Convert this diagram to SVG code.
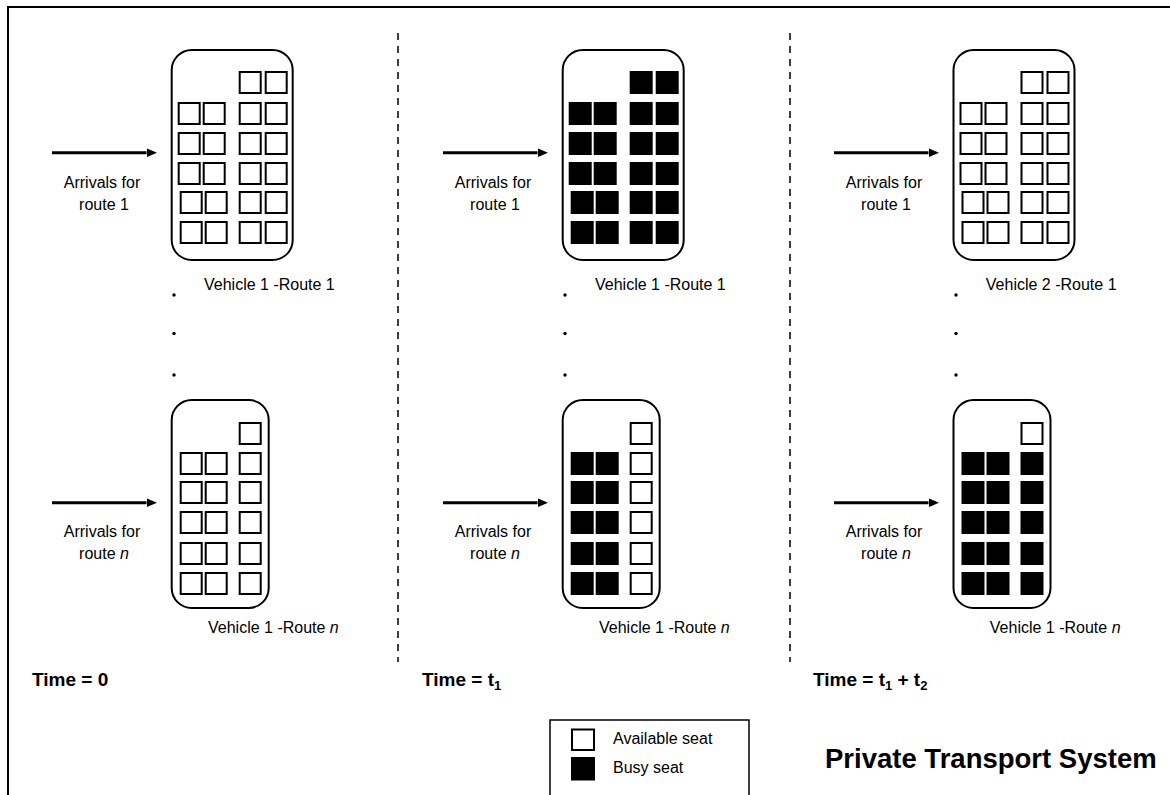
<svg xmlns="http://www.w3.org/2000/svg" xmlns:xlink="http://www.w3.org/1999/xlink" width="1170" height="795" viewBox="0 0 1170 795">
<style>
.body{fill:#fff;stroke:#000;stroke-width:2}
.free{fill:#fff;stroke:#000;stroke-width:2}
.busy{fill:#000;stroke:#000;stroke-width:2}
.lbl{font-family:"Liberation Sans",Arial,sans-serif;font-size:16px;fill:#000}
.time{font-family:"Liberation Sans",Arial,sans-serif;font-size:19px;font-weight:bold;fill:#000}
.title{font-family:"Liberation Sans",Arial,sans-serif;font-size:27.5px;font-weight:bold;fill:#000}
.arrow{stroke:#000;stroke-width:3;fill:none}
.dash{stroke:#000;stroke-width:1.5;stroke-dasharray:7 6;fill:none}
.dot{fill:#000}
</style>
<defs>
<marker id="ah" markerUnits="userSpaceOnUse" markerWidth="11" markerHeight="10" refX="0" refY="4.5" orient="auto">
<path d="M0,0 L10.5,4.5 L0,9 z" fill="#000"/>
</marker>
</defs>
<rect x="0" y="0" width="1170" height="795" fill="#fff"/>
<rect x="8" y="7" width="1180" height="800" fill="none" stroke="#000" stroke-width="2"/>

<g id="dividers">
<line class="dash" x1="398" y1="33" x2="398" y2="662"/>
<line class="dash" x1="790" y1="33" x2="790" y2="662"/>
</g>

<!-- Column 1 -->
<g id="veh1-route1" transform="translate(171.7,50)">
<rect class="body" x="0" y="0" width="121" height="210" rx="20"/>
<g class="free">
<rect x="68" y="22" width="21" height="21"/><rect x="94" y="22" width="21" height="21"/>
<rect x="7" y="53" width="21" height="21"/><rect x="32" y="53" width="21" height="21"/><rect x="68" y="53" width="21" height="21"/><rect x="94" y="53" width="21" height="21"/>
<rect x="7" y="83" width="21" height="21"/><rect x="32" y="83" width="21" height="21"/><rect x="68" y="83" width="21" height="21"/><rect x="94" y="83" width="21" height="21"/>
<rect x="7" y="113" width="21" height="21"/><rect x="32" y="113" width="21" height="21"/><rect x="68" y="113" width="21" height="21"/><rect x="94" y="113" width="21" height="21"/>
<rect x="9" y="142" width="21" height="21"/><rect x="34" y="142" width="21" height="21"/><rect x="68" y="142" width="21" height="21"/><rect x="94" y="142" width="21" height="21"/>
<rect x="9" y="172" width="21" height="21"/><rect x="34" y="172" width="21" height="21"/><rect x="68" y="172" width="21" height="21"/><rect x="94" y="172" width="21" height="21"/>
</g>
<text class="lbl" x="32.3" y="240">Vehicle 1 -Route 1</text>
</g>

<g id="veh1-routen" transform="translate(171.7,400)">
<rect class="body" x="0" y="0" width="97" height="208" rx="20"/>
<g class="free">
<rect x="68" y="23" width="21" height="21"/>
<rect x="9" y="53" width="21" height="21"/><rect x="34" y="53" width="21" height="21"/><rect x="68" y="53" width="21" height="21"/>
<rect x="9" y="82" width="21" height="21"/><rect x="34" y="82" width="21" height="21"/><rect x="68" y="82" width="21" height="21"/>
<rect x="9" y="112" width="21" height="21"/><rect x="34" y="112" width="21" height="21"/><rect x="68" y="112" width="21" height="21"/>
<rect x="9" y="143" width="21" height="21"/><rect x="34" y="143" width="21" height="21"/><rect x="68" y="143" width="21" height="21"/>
<rect x="9" y="173" width="21" height="21"/><rect x="34" y="173" width="21" height="21"/><rect x="68" y="173" width="21" height="21"/>
</g>
<text class="lbl" x="36.3" y="233">Vehicle 1 -Route <tspan font-style="italic">n</tspan></text>
</g>

<!-- Column 2 -->
<g id="veh1-route1-t1" transform="translate(562.7,50)">
<rect class="body" x="0" y="0" width="121" height="210" rx="20"/>
<g class="busy">
<rect x="68" y="22" width="21" height="21"/><rect x="94" y="22" width="21" height="21"/>
<rect x="7" y="53" width="21" height="21"/><rect x="32" y="53" width="21" height="21"/><rect x="68" y="53" width="21" height="21"/><rect x="94" y="53" width="21" height="21"/>
<rect x="7" y="83" width="21" height="21"/><rect x="32" y="83" width="21" height="21"/><rect x="68" y="83" width="21" height="21"/><rect x="94" y="83" width="21" height="21"/>
<rect x="7" y="113" width="21" height="21"/><rect x="32" y="113" width="21" height="21"/><rect x="68" y="113" width="21" height="21"/><rect x="94" y="113" width="21" height="21"/>
<rect x="9" y="142" width="21" height="21"/><rect x="34" y="142" width="21" height="21"/><rect x="68" y="142" width="21" height="21"/><rect x="94" y="142" width="21" height="21"/>
<rect x="9" y="172" width="21" height="21"/><rect x="34" y="172" width="21" height="21"/><rect x="68" y="172" width="21" height="21"/><rect x="94" y="172" width="21" height="21"/>
</g>
<text class="lbl" x="32.3" y="240">Vehicle 1 -Route 1</text>
</g>

<g id="veh1-routen-t1" transform="translate(562.7,400)">
<rect class="body" x="0" y="0" width="97" height="208" rx="20"/>
<g class="free">
<rect x="68" y="23" width="21" height="21"/>
<rect x="68" y="53" width="21" height="21"/><rect x="68" y="82" width="21" height="21"/><rect x="68" y="112" width="21" height="21"/><rect x="68" y="143" width="21" height="21"/><rect x="68" y="173" width="21" height="21"/>
</g>
<g class="busy">
<rect x="9" y="53" width="21" height="21"/><rect x="34" y="53" width="21" height="21"/>
<rect x="9" y="82" width="21" height="21"/><rect x="34" y="82" width="21" height="21"/>
<rect x="9" y="112" width="21" height="21"/><rect x="34" y="112" width="21" height="21"/>
<rect x="9" y="143" width="21" height="21"/><rect x="34" y="143" width="21" height="21"/>
<rect x="9" y="173" width="21" height="21"/><rect x="34" y="173" width="21" height="21"/>
</g>
<text class="lbl" x="36.3" y="233">Vehicle 1 -Route <tspan font-style="italic">n</tspan></text>
</g>

<!-- Column 3 -->
<g id="veh2-route1" transform="translate(953.5,50)">
<rect class="body" x="0" y="0" width="121" height="210" rx="20"/>
<g class="free">
<rect x="68" y="22" width="21" height="21"/><rect x="94" y="22" width="21" height="21"/>
<rect x="7" y="53" width="21" height="21"/><rect x="32" y="53" width="21" height="21"/><rect x="68" y="53" width="21" height="21"/><rect x="94" y="53" width="21" height="21"/>
<rect x="7" y="83" width="21" height="21"/><rect x="32" y="83" width="21" height="21"/><rect x="68" y="83" width="21" height="21"/><rect x="94" y="83" width="21" height="21"/>
<rect x="7" y="113" width="21" height="21"/><rect x="32" y="113" width="21" height="21"/><rect x="68" y="113" width="21" height="21"/><rect x="94" y="113" width="21" height="21"/>
<rect x="9" y="142" width="21" height="21"/><rect x="34" y="142" width="21" height="21"/><rect x="68" y="142" width="21" height="21"/><rect x="94" y="142" width="21" height="21"/>
<rect x="9" y="172" width="21" height="21"/><rect x="34" y="172" width="21" height="21"/><rect x="68" y="172" width="21" height="21"/><rect x="94" y="172" width="21" height="21"/>
</g>
<text class="lbl" x="32.3" y="240">Vehicle 2 -Route 1</text>
</g>

<g id="veh1-routen-t2" transform="translate(953.5,400)">
<rect class="body" x="0" y="0" width="97" height="208" rx="20"/>
<g class="free">
<rect x="68" y="23" width="21" height="21"/>
</g>
<g class="busy">
<rect x="9" y="53" width="21" height="21"/><rect x="34" y="53" width="21" height="21"/><rect x="68" y="53" width="21" height="21"/>
<rect x="9" y="82" width="21" height="21"/><rect x="34" y="82" width="21" height="21"/><rect x="68" y="82" width="21" height="21"/>
<rect x="9" y="112" width="21" height="21"/><rect x="34" y="112" width="21" height="21"/><rect x="68" y="112" width="21" height="21"/>
<rect x="9" y="143" width="21" height="21"/><rect x="34" y="143" width="21" height="21"/><rect x="68" y="143" width="21" height="21"/>
<rect x="9" y="173" width="21" height="21"/><rect x="34" y="173" width="21" height="21"/><rect x="68" y="173" width="21" height="21"/>
</g>
<text class="lbl" x="36.3" y="233">Vehicle 1 -Route <tspan font-style="italic">n</tspan></text>
</g>

<g id="connectors">
<line class="arrow" x1="52" y1="152.7" x2="146.5" y2="152.7" marker-end="url(#ah)"/>
<line class="arrow" x1="52" y1="502.7" x2="146.5" y2="502.7" marker-end="url(#ah)"/>
<line class="arrow" x1="443" y1="152.7" x2="537.5" y2="152.7" marker-end="url(#ah)"/>
<line class="arrow" x1="443" y1="502.7" x2="537.5" y2="502.7" marker-end="url(#ah)"/>
<line class="arrow" x1="834" y1="152.7" x2="928.5" y2="152.7" marker-end="url(#ah)"/>
<line class="arrow" x1="834" y1="502.7" x2="928.5" y2="502.7" marker-end="url(#ah)"/>
</g>

<g id="arrival-labels" class="lbl" text-anchor="middle">
<text x="102" y="188">Arrivals for</text><text x="104" y="210">route 1</text>
<text x="102" y="537">Arrivals for</text><text x="104" y="559">route <tspan font-style="italic">n</tspan></text>
<text x="493" y="188">Arrivals for</text><text x="495" y="210">route 1</text>
<text x="493" y="537">Arrivals for</text><text x="495" y="559">route <tspan font-style="italic">n</tspan></text>
<text x="884" y="188">Arrivals for</text><text x="886" y="210">route 1</text>
<text x="884" y="537">Arrivals for</text><text x="886" y="559">route <tspan font-style="italic">n</tspan></text>
</g>

<g id="ellipsis">
<circle class="dot" cx="174" cy="295" r="1.7"/><circle class="dot" cx="174" cy="333.5" r="1.7"/><circle class="dot" cx="174" cy="375" r="1.7"/>
<circle class="dot" cx="565" cy="295" r="1.7"/><circle class="dot" cx="565" cy="333.5" r="1.7"/><circle class="dot" cx="565" cy="375" r="1.7"/>
<circle class="dot" cx="956" cy="295" r="1.7"/><circle class="dot" cx="956" cy="333.5" r="1.7"/><circle class="dot" cx="956" cy="375" r="1.7"/>
</g>

<g id="time-labels" class="time">
<text x="32" y="686">Time = 0</text>
<text x="422" y="686">Time = t<tspan font-size="13" dy="4">1</tspan></text>
<text x="813" y="686">Time = t<tspan font-size="13" dy="4">1</tspan><tspan dy="-4"> + t</tspan><tspan font-size="13" dy="4">2</tspan></text>
</g>

<g id="legend">
<rect x="550" y="720" width="199" height="85" fill="#fff" stroke="#000" stroke-width="1.5"/>
<rect class="free" x="572" y="729.5" width="22" height="20.5"/>
<rect class="busy" x="572" y="758" width="22" height="21.5"/>
<text class="lbl" x="613" y="744">Available seat</text>
<text class="lbl" x="613" y="773">Busy seat</text>
</g>

<g id="title">
<text class="title" x="825" y="768">Private Transport System</text>
</g>
</svg>
